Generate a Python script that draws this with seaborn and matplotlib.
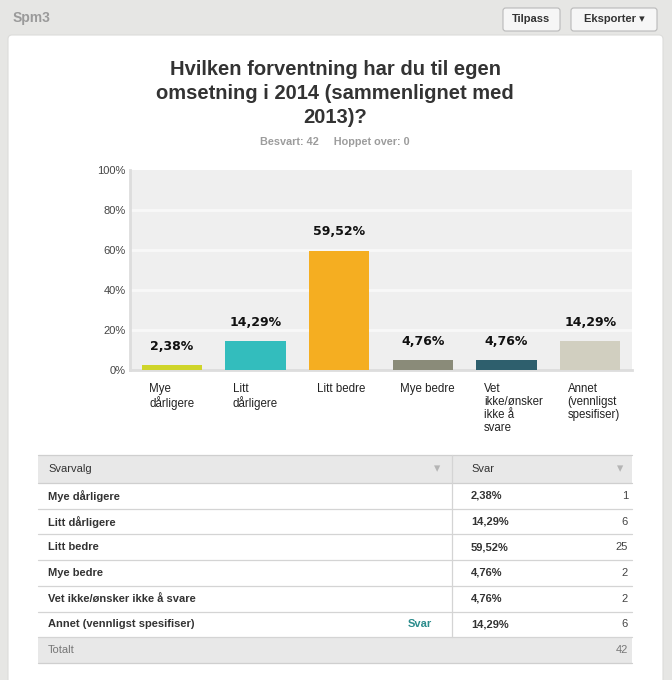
import matplotlib
matplotlib.use("Agg")
import matplotlib.pyplot as plt
from matplotlib.patches import Rectangle, FancyBboxPatch
import matplotlib.transforms as mtransforms
import seaborn as sns
import pandas as pd

# ---------------- data ----------------
categories = ["Mye dårligere", "Litt dårligere", "Litt bedre", "Mye bedre",
              "Vet ikke/ønsker ikke å svare", "Annet (vennligst spesifiser)"]
axis_labels = ["Mye\ndårligere", "Litt\ndårligere", "Litt bedre", "Mye bedre",
               "Vet\nikke/ønsker\nikke å\nsvare", "Annet\n(vennligst\nspesifiser)"]
percents = [2.38, 14.29, 59.52, 4.76, 4.76, 14.29]
counts = [1, 6, 25, 2, 2, 6]
total = 42
skipped = 0
bar_colors = ["#cfd52a", "#33bdbd", "#f5ae21", "#8a8b79", "#2e5f6d", "#d1cfc0"]
y_ticks = [0, 20, 40, 60, 80, 100]
question_no = "Spm3"
title = "Hvilken forventning har du til egen\nomsetning i 2014 (sammenlignet med\n2013)?"

W, H = 672, 680
sns.set_theme(style="white")
plt.rcParams["font.family"] = ["Liberation Sans", "DejaVu Sans"]

fig = plt.figure(figsize=(W / 100, H / 100), dpi=100)
fig.patch.set_facecolor("#e6e6e4")

def fx(x):
    return x / W

def fy(y):
    return 1 - y / H

# white panel
fig.patches.append(FancyBboxPatch((fx(8), fy(690)), fx(655), (690 - 35) / H,
                                  boxstyle="round,pad=0,rounding_size=0.006",
                                  transform=fig.transFigure, facecolor="white",
                                  edgecolor="#dcdcda", linewidth=0.8, zorder=-1))

# header
fig.text(fx(13), fy(18), question_no, fontsize=10, fontweight="bold", color="#9a9a9a",
         va="center", ha="left")
for (x0, x1, lbl) in [(503, 560, "Tilpass"), (571, 657, "Eksporter \u25be")]:
    fig.patches.append(FancyBboxPatch((fx(x0), fy(31)), fx(x1 - x0), 23 / H,
                                      boxstyle="round,pad=0,rounding_size=0.004",
                                      transform=fig.transFigure, facecolor="#f6f6f6",
                                      edgecolor="#b9b9b9", linewidth=0.8))
    fig.text(fx((x0 + x1) / 2), fy(19.5), lbl, fontsize=8, fontweight="bold", color="#333333",
             ha="center", va="center", family=["Liberation Sans", "DejaVu Sans"])

# title & subtitle
fig.text(fx(335), fy(60), title, fontsize=14.5, fontweight="bold", color="#333333",
         ha="center", va="top", linespacing=1.33)
fig.text(fx(335), fy(142), f"Besvart: {total}     Hoppet over: {skipped}", fontsize=7.8,
         fontweight="bold", color="#9c9c9c", ha="center", va="center")

# ---------------- bar chart ----------------
ax = fig.add_axes([fx(130), fy(370), fx(632 - 130), (370 - 170) / H])
ax.set_zorder(5)
df = pd.DataFrame({"cat": categories, "pct": percents})
sns.barplot(data=df, x="cat", y="pct", hue="cat", palette=bar_colors, width=0.72,
            saturation=1, legend=False, ax=ax, zorder=3)
ax.set_facecolor("#efefef")
ax.set_ylim(0, 100)
ax.set_xlim(-0.5, len(categories) - 0.5)
ax.set_yticks(y_ticks)
ax.set_yticklabels([f"{t}%" for t in y_ticks], fontsize=8, color="#444444")
ax.tick_params(axis="y", length=0, pad=3)
ax.set_xticks(range(len(categories)))
ax.set_xticklabels([])
ax.tick_params(axis="x", length=0)
ax.set_xlabel("")
ax.set_ylabel("")
for t in y_ticks[1:-1]:
    ax.axhline(t, color="#f8f8f8", linewidth=2, zorder=1)
for s in ["top", "right"]:
    ax.spines[s].set_visible(False)
for s in ["left", "bottom"]:
    ax.spines[s].set_color("#dddddd")
    ax.spines[s].set_linewidth(2)
for p in ax.patches:
    p.set_edgecolor("none")

for i, v in enumerate(percents):
    ax.annotate(f"{v:.2f}%".replace(".", ","), (i, v), xytext=(0, 9),
                textcoords="offset points", ha="center", va="bottom",
                fontsize=9, fontweight="bold", color="#111111",
                family=["DejaVu Sans"])

trans = mtransforms.blended_transform_factory(ax.transData, ax.transAxes)
for i, lbl in enumerate(axis_labels):
    ax.text(i - 0.27, -0.065, lbl, transform=trans, ha="left", va="top",
            fontsize=8.3, color="#222222", linespacing=1.12)

# ---------------- table ----------------
tl, tr, tdiv = 38, 632, 452
row_h = 25.7
top = 455
def hline(y, color="#d4d4d4", lw=0.9):
    fig.add_artist(plt.Line2D([fx(tl), fx(tr)], [fy(y), fy(y)], color=color, lw=lw,
                              transform=fig.transFigure))

fig.patches.append(Rectangle((fx(tl), fy(483)), fx(tr - tl), 28 / H,
                             transform=fig.transFigure, facecolor="#e8e8e8", edgecolor="none"))
hline(top, "#cfcfcf")
hline(483, "#cfcfcf")
fig.text(fx(48), fy(469), "Svarvalg", fontsize=8, color="#333333", va="center")
fig.text(fx(471), fy(469), "Svar", fontsize=8, color="#333333", va="center")
for xx in [437, 620]:
    fig.text(fx(xx), fy(469), "\u25be", fontsize=9, color="#b5b5b5", va="center",
             ha="center", family=["DejaVu Sans"])

y = 483
for i, (c, p, n) in enumerate(zip(categories, percents, counts)):
    yc = y + row_h / 2
    fig.text(fx(48), fy(yc), c, fontsize=8, fontweight="bold", color="#333333", va="center")
    fig.text(fx(471), fy(yc), f"{p:.2f}%".replace(".", ","), fontsize=8, fontweight="bold",
             color="#333333", va="center")
    fig.text(fx(628), fy(yc), str(n), fontsize=8, color="#444444", va="center", ha="right")
    if c.startswith("Annet"):
        fig.text(fx(432), fy(yc), "Svar", fontsize=8, fontweight="bold", color="#2b8c8c",
                 va="center", ha="right")
    y += row_h
    hline(y)

fig.add_artist(plt.Line2D([fx(tdiv), fx(tdiv)], [fy(top), fy(y)], color="#d4d4d4", lw=0.9,
                          transform=fig.transFigure))
fig.patches.append(Rectangle((fx(tl), fy(y + row_h)), fx(tr - tl), row_h / H,
                             transform=fig.transFigure, facecolor="#e8e8e8", edgecolor="none"))
hline(y + row_h, "#cfcfcf")
fig.text(fx(48), fy(y + row_h / 2), "Totalt", fontsize=8, color="#777777", va="center")
fig.text(fx(628), fy(y + row_h / 2), str(total), fontsize=8, color="#777777", va="center",
         ha="right")

fig.savefig("out.png", dpi=100, facecolor=fig.get_facecolor())
